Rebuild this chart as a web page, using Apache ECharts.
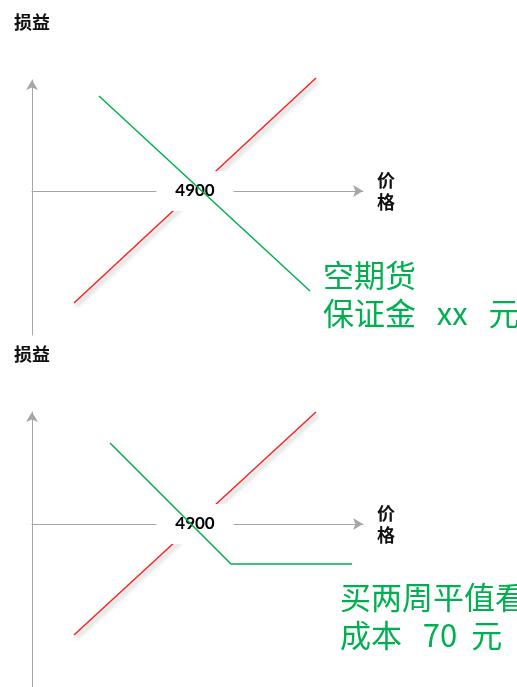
<!DOCTYPE html>
<html>
<head>
<meta charset="utf-8">
<script src="https://cdn.jsdelivr.net/npm/echarts@6/dist/echarts.min.js"></script>
<style>html,body{margin:0;padding:0;background:#fff}#c{width:517px;height:687px}</style>
</head>
<body>
<div id="c"></div>
<script>
// ---- data ----
const strikePrice = 4900;
const topLong = [[4295, -560], [5505, 565]];            // red line, upper panel
const topShort = [[4420, 475], [5475, -500]];           // green line, upper panel (空期货)
const bottomLong = [[4295, -555], [5505, 560]];         // red line, lower panel
const bottomCall = [[4475, 405], [5080, -200], [5685, -200]]; // green line, lower panel
const yName = '损益';
const xName = '价\n格';
const topNote = '空期货\n保证金   xx   元';
const bottomNote = '买两周平值看\n成本   70  元';

const GRAY = '#A6A6A6', RED = '#FF2020', GREEN = '#00B050';
const cjk = '"Noto Sans CJK SC", sans-serif';

function xAxisDef(gi) {
  return {
    type: 'value', gridIndex: gi, min: 4085, max: 5740,
    name: xName, nameLocation: 'end', nameGap: 14,
    nameTextStyle: { fontFamily: cjk, fontSize: 18, fontWeight: 'bold', color: '#111', lineHeight: 22, align: 'left', verticalAlign: 'middle' },
    axisLine: { onZero: true, lineStyle: { color: GRAY, width: 1 }, symbol: ['none', 'arrow'], symbolSize: [9, 10] },
    axisTick: { show: false }, axisLabel: { show: false }, splitLine: { show: false }, z: 0
  };
}
function yAxisDef(gi, min, max) {
  return {
    type: 'value', gridIndex: gi, min: min, max: max,
    name: yName, nameLocation: 'end', nameGap: 49,
    nameTextStyle: { fontFamily: cjk, fontSize: 18, fontWeight: 'bold', color: '#111', align: 'center' },
    axisLine: { onZero: false, lineStyle: { color: GRAY, width: 1 }, symbol: ['none', 'arrow'], symbolSize: [9, 10] },
    axisTick: { show: false }, axisLabel: { show: false }, splitLine: { show: false }, z: 0
  };
}
function redLine(gi, data) {
  return {
    type: 'line', xAxisIndex: gi, yAxisIndex: gi, data: data, symbol: 'none', clip: false, z: 2, silent: true,
    lineStyle: { color: RED, width: 1.5, shadowColor: 'rgba(0,0,0,0.35)', shadowBlur: 4, shadowOffsetX: 2, shadowOffsetY: 3 }
  };
}
function greenLine(gi, data) {
  return {
    type: 'line', xAxisIndex: gi, yAxisIndex: gi, data: data, symbol: 'none', clip: false, z: 4, silent: true,
    lineStyle: { color: GREEN, width: 1.5 }
  };
}
function strikeBox(gi) {
  return {
    type: 'scatter', xAxisIndex: gi, yAxisIndex: gi, data: [[strikePrice, 0]], z: 3, silent: true,
    symbol: 'rect', symbolSize: [77, 40], itemStyle: { color: '#fff', opacity: 1 },
    label: { show: true, position: 'inside', formatter: String(strikePrice), fontFamily: 'Lato, sans-serif', fontSize: 17, fontWeight: 'bold', color: '#000', opacity: 1 }
  };
}

const chart = echarts.init(document.getElementById('c'), null, { renderer: 'canvas' });
chart.setOption({
  backgroundColor: '#fff',
  animation: false,
  grid: [
    { left: 32, top: 80, width: 331, height: 255 },
    { left: 32, top: 412, width: 331, height: 275 }
  ],
  xAxis: [xAxisDef(0), xAxisDef(1)],
  yAxis: [yAxisDef(0, -720, 555), yAxisDef(1, -815, 560)],
  series: [
    redLine(0, topLong), strikeBox(0), greenLine(0, topShort),
    redLine(1, bottomLong), strikeBox(1), greenLine(1, bottomCall)
  ],
  graphic: [
    { type: 'text', left: 323, top: 256, z: 10, style: { text: topNote, font: '31px ' + cjk, fill: GREEN, lineHeight: 38 } },
    { type: 'text', left: 340, top: 578, z: 10, style: { text: bottomNote, font: '31px ' + cjk, fill: GREEN, lineHeight: 38 } }
  ]
});
</script>
</body>
</html>
